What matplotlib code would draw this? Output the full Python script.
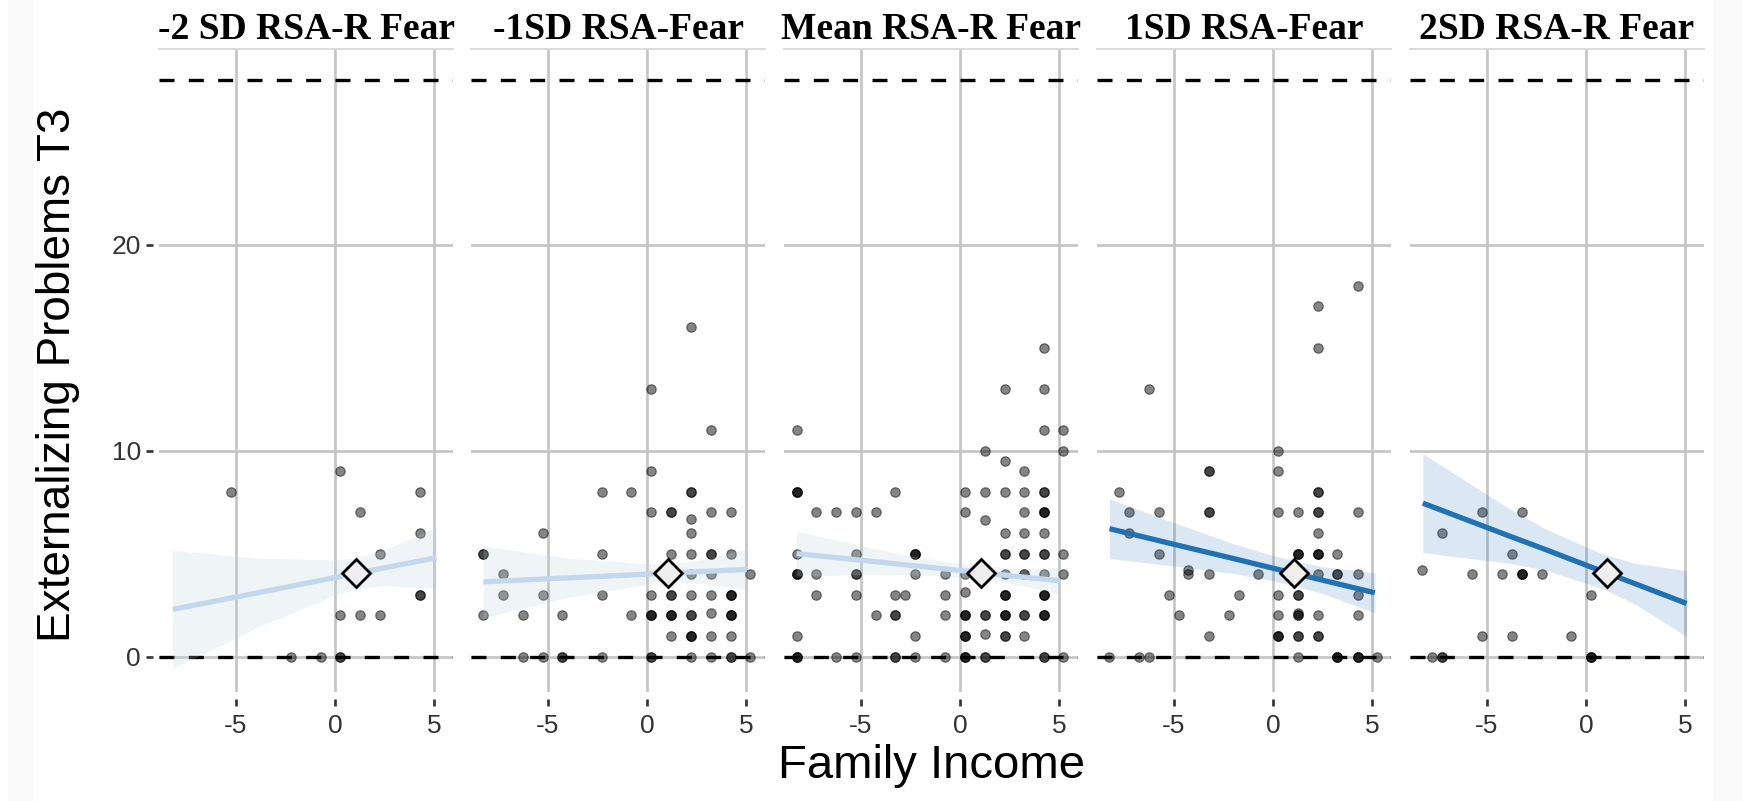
import matplotlib.pyplot as plt
from matplotlib.patches import Rectangle

# panel titles
titles = ['-2 SD RSA-R Fear', '-1SD RSA-Fear', 'Mean RSA-R Fear', '1SD RSA-Fear', '2SD RSA-R Fear']

# raw points per panel (repeated entries = overlapping points)
p1_x = [-5.25, 0.25, 1.25, 4.27, 4.27, 2.26, 4.27, 4.27, 0.25, 1.25, 2.26, -2.22, -0.73, 0.25, 0.25]
p1_y = [8, 9, 7, 8, 6, 5, 3, 3, 2, 2, 2, 0, 0, 0, 0]

p2_x = [2.22, 0.22, 3.23, 0.22, -2.27, -0.79, 2.22, 2.22, 0.22, 1.21, 1.21, 3.23, 4.22, 2.22, 2.22, -5.26,
        -8.27, -8.27, -2.27, 1.21, 2.22, 3.23, 3.23, 4.22, -7.26, 2.22, 3.23, 5.21,
        -7.26, -5.26, -2.27, 0.22, 1.21, 1.21, 2.22, 3.23, 4.22, 4.22, 4.22,
        -8.27, -6.27, -4.27, -0.79, 0.22, 0.22, 0.22, 1.21, 1.21, 1.21, 2.22, 2.22, 3.23, 4.22, 4.22, 4.22,
        1.21, 2.22, 2.22, 2.22, 3.23, 4.22,
        -6.27, -5.26, -4.27, -4.27, -2.27, 0.22, 0.22, 2.22, 3.23, 4.22, 4.22, 5.21]
p2_y = [16, 13, 11, 9, 8, 8, 8, 8, 7, 7, 7, 7, 7, 6.67, 6, 6,
        5, 5, 5, 5, 5, 5, 5, 5, 4, 4, 4, 4,
        3, 3, 3, 3, 3, 3, 3, 3, 3, 3, 3,
        2, 2, 2, 2, 2, 2, 2, 2, 2, 2, 2, 2, 2.1, 2, 2, 2,
        1, 1, 1, 1, 1, 1,
        0, 0, 0, 0, 0, 0, 0, 0, 0, 0, 0, 0]

p3_x = [4.24, 2.25, 4.24, -8.25, 4.24, 5.21, 1.24, 5.21, 2.25, 3.23,
        -8.25, -8.25, -8.25, -3.28, 0.24, 1.24, 2.25, 3.23, 4.24, 4.24,
        -7.28, -6.27, -5.26, -4.25, 0.24, 1.24, 3.23, 4.24, 4.24, 4.24,
        2.25, 3.23, 4.24,
        -8.25, -5.26, -2.27, -2.27, -2.27, 2.25, 2.25, 3.23, 3.23, 4.24, 4.24, 5.21,
        -8.25, -8.25, -8.25, -7.28, -5.26, -5.26, -2.27, -0.77, 0.24, 2.25, 3.23, 3.23, 4.24, 5.21,
        -7.28, -5.26, -3.28, -2.77, -0.77, 0.24, 2.25, 2.25, 2.25, 4.24, 4.24, 4.24,
        -4.25, -3.28, -3.28, -0.77, 0.24, 0.24, 0.24, 1.24, 1.24, 2.25, 2.25, 2.25, 3.23, 3.23,
        4.24, 4.24, 4.24,
        -8.25, -2.27, 0.24, 0.24, 0.24, 1.24, 2.25, 2.25, 3.23,
        -8.25, -8.25, -8.25, -6.27, -5.26, -3.28, -3.28, -2.27, -0.77, 0.24, 0.24, 0.24,
        1.24, 1.24, 4.24, 4.24, 5.21]
p3_y = [15, 13, 13, 11, 11, 11, 10, 10, 9.5, 9,
        8, 8, 8, 8, 8, 8, 8, 8, 8, 8,
        7, 7, 7, 7, 7, 6.65, 7, 7, 7, 7,
        6, 6, 6,
        5, 5, 5, 5, 5, 5, 5, 5, 5, 5, 5, 5,
        4, 4, 4, 4, 4, 4, 4, 4, 4, 4, 4, 4, 4, 4,
        3, 3, 3, 3, 3, 3.15, 3, 3, 3, 3, 3, 3,
        2, 2, 2, 2, 2, 2, 2, 2, 2, 2, 2, 2, 2, 2,
        2, 2, 2,
        1, 1, 1, 1, 1, 1.1, 1, 1, 1,
        0, 0, 0, 0, 0, 0, 0, 0, 0, 0, 0, 0,
        0, 0, 0, 0, 0]

p4_x = [4.27, 2.28, 2.28, -6.27, 0.25, -3.24, -3.24, 0.25, -7.76, 2.28, 2.28,
        -7.29, -5.77, -3.24, -3.24, 0.25, 1.26, 2.28, 2.28, 4.27,
        -7.29, 2.28, -5.77, 1.26, 1.26, 1.26, 2.28, 2.28, 2.28, 3.25,
        -4.27, -4.27, -3.24, -0.74, 2.28, 3.25, 3.25, 4.27,
        -5.26, -1.74, 0.25, 1.26, 1.26, 4.27,
        -4.76, -2.23, 0.25, 1.26, 1.26, 1.26, 2.28, 4.27,
        -3.24, 0.25, 0.25, 0.25, 1.26, 1.26, 2.28, 2.28,
        -8.26, -6.78, -6.27, 1.26, 3.25, 3.25, 3.25, 4.27, 4.27, 4.27, 5.26]
p4_y = [18, 17, 15, 13, 10, 9, 9, 9, 8, 8, 8,
        7, 7, 7, 7, 7, 7, 7, 7, 7,
        6, 6, 5, 5, 5, 5, 5, 5, 5, 5,
        4.2, 4.0, 4, 4, 4, 4, 4, 4,
        3, 3, 3, 3, 3, 3,
        2, 2, 2, 2, 2, 2.1, 2, 2,
        1, 1, 1, 1, 1, 1, 1, 1,
        0, 0, 0, 0, 0, 0, 0, 0, 0, 0, 0]

p5_x = [-5.24, -3.24, -7.26, -3.75, -8.27, -5.75, -4.25, -3.24, -3.24, -3.24, -2.24,
        0.24, -5.24, -3.75, -0.76, -7.76, -7.26, -7.26, 0.24, 0.24, 0.24]
p5_y = [7, 7, 6, 5, 4.2, 4, 4, 4, 4, 4, 4,
        3, 1, 1, 1, 0, 0, 0, 0, 0, 0]

points_x = [p1_x, p2_x, p3_x, p4_x, p5_x]
points_y = [p1_y, p2_y, p3_y, p4_y, p5_y]

# fitted lines with confidence band
fit_x = [[-8.2, -4, 0, 1, 2.5, 5.12],
         [-8.27, -4, 0, 1, 3, 5.04],
         [-8.25, -5, -2, 0, 1, 3, 5.04],
         [-8.26, -5, -2, 0, 1, 2.5, 5.14],
         [-8.24, -6, -4, -2, 0, 1, 2.5, 5.08]]
fit_y = [[2.29, 3.08, 3.84, 4.03, 4.31, 4.8],
         [3.63, 3.82, 4.0, 4.05, 4.14, 4.23],
         [5.0, 4.68, 4.38, 4.18, 4.08, 3.88, 3.68],
         [6.21, 5.45, 4.76, 4.29, 4.06, 3.71, 3.1],
         [7.45, 6.63, 5.9, 5.18, 4.44, 4.08, 3.53, 2.58]]
fit_lo = [[-0.58, 1.38, 2.99, 3.28, 3.46, 3.3],
          [1.88, 2.87, 3.5, 3.6, 3.54, 3.23],
          [3.92, 3.98, 3.96, 3.85, 3.76, 3.48, 3.03],
          [4.76, 4.4, 4.04, 3.67, 3.46, 3.06, 2.13],
          [5.05, 4.78, 4.55, 4.18, 3.56, 3.23, 2.53, 0.98]]
fit_hi = [[5.16, 4.78, 4.69, 4.78, 5.16, 6.3],
          [5.38, 4.77, 4.5, 4.5, 4.74, 5.23],
          [6.08, 5.38, 4.8, 4.51, 4.4, 4.28, 4.33],
          [7.66, 6.5, 5.48, 4.91, 4.66, 4.36, 4.07],
          [9.85, 8.48, 7.25, 6.18, 5.32, 4.93, 4.53, 4.18]]

mean_x = 1.05
mean_y = 4.04

line_colors = ['#c3d7ee', '#c3d7ee', '#c3d7ee', '#2171b5', '#2171b5']
band_colors = ['#b9d3dc', '#b9d3dc', '#b9d3dc', '#2171b5', '#2171b5']
band_alpha = [0.22, 0.22, 0.22, 0.16, 0.16]

W, H = 1742, 801
fig = plt.figure(figsize=(W / 100, H / 100), dpi=100)
plt.rcParams['font.family'] = 'Liberation Sans'

# faint grey edges of the original screenshot
fig.patches.append(Rectangle((8 / W, 0), 24 / W, 1, transform=fig.transFigure, color='#fafafa', zorder=0))
fig.patches.append(Rectangle((1713 / W, 0), 29 / W, 1, transform=fig.transFigure, color='#fafafa', zorder=0))

lefts = [159, 471, 784, 1097, 1410]
pw = 294
top, bottom = 49, 692

for i in range(5):
    ax = fig.add_axes([lefts[i] / W, (H - bottom) / H, pw / W, (bottom - top) / H])
    ax.set_xlim(-8.89, 5.96)
    ax.set_ylim(-1.72, 29.5)
    ax.set_xticks([-5, 0, 5])
    ax.set_yticks([0, 10, 20])
    ax.set_axisbelow(True)
    ax.grid(True, color='#c4c4c4', lw=1.9)
    for s in ['left', 'right', 'bottom']:
        ax.spines[s].set_visible(False)
    ax.spines['top'].set_color('#d8d8d8')
    ax.spines['top'].set_linewidth(1.3)
    ax.spines['bottom'].set_position(('outward', 5))
    ax.spines['left'].set_position(('outward', 4))
    ax.tick_params(axis='x', length=5, width=1.9, color='#333333', labelsize=19, pad=6, labelcolor='#333333')
    if i == 0:
        ax.tick_params(axis='y', length=5, width=1.9, color='#333333', labelsize=19, pad=4, labelcolor='#333333')
    else:
        ax.tick_params(axis='y', left=False, labelleft=False)
    ax.set_xticklabels(['-5', '0', '5'])

    for yref in [0, 28]:
        ax.axhline(yref, color='black', lw=2.4, dashes=(4.5, 4.3), zorder=1)

    ax.scatter(points_x[i], points_y[i], s=46, color='black', alpha=0.48, lw=0.9, zorder=2)
    ax.fill_between(fit_x[i], fit_lo[i], fit_hi[i], color=band_colors[i], alpha=band_alpha[i], lw=0, zorder=3)
    ax.plot(fit_x[i], fit_y[i], color=line_colors[i], lw=3.8, solid_capstyle='butt', zorder=4)
    ax.plot([mean_x], [mean_y], marker='D', ms=14, mfc='#eeeeee', mec='black', mew=2, zorder=5)

    fig.text((lefts[i] + pw / 2) / W, (H - 39) / H, titles[i], ha='center', va='baseline',
             family='Liberation Serif', fontweight='bold', fontsize=27)

fig.text(58 / W, (H - 375) / H, 'Externalizing Problems T3', rotation=90, ha='center', va='center', fontsize=33)
fig.text(931 / W, (H - 778) / H, 'Family Income', ha='center', va='baseline', fontsize=34)

fig.savefig('out.png', dpi=100)
